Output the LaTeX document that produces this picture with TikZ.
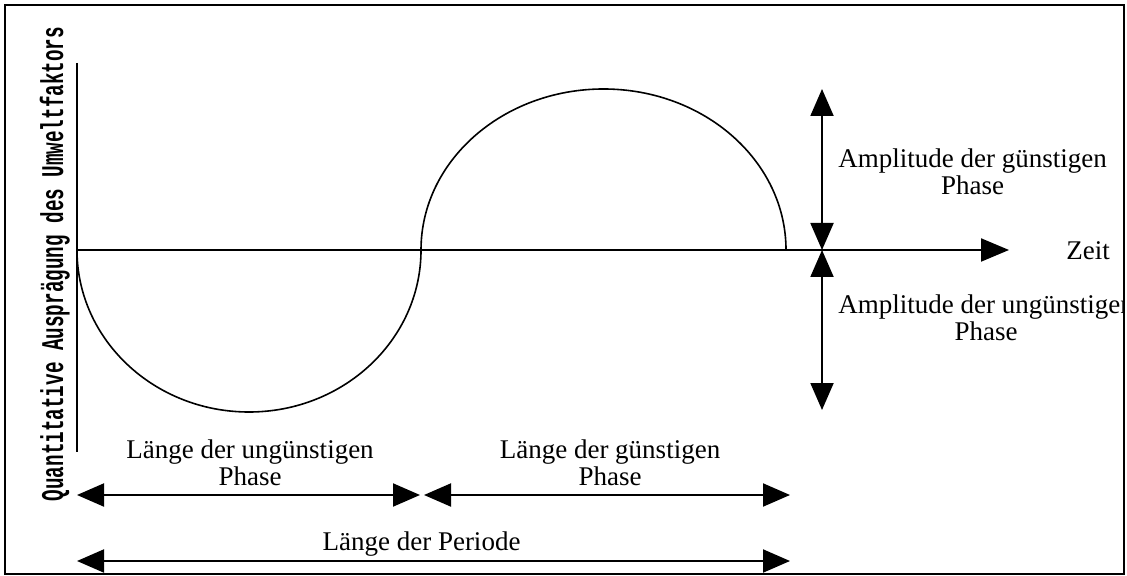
\documentclass[tikz,border=0pt]{standalone}
\usepackage{fontspec}
\setmainfont{Liberation Serif}
\newfontfamily\axisfont[FakeStretch=0.61]{Liberation Mono}
\usetikzlibrary{arrows.meta,positioning}
\tikzset{axisline/.style={line width=1pt},
  wave/.style={line width=0.8pt},
  dimarrow/.style={line width=1pt,
    {Triangle[length=13.5pt,width=11.5pt]}-{Triangle[length=13.5pt,width=11.5pt]}},
  lbl/.style={font=\fontsize{13.5}{13.5}\selectfont, align=center, inner sep=0pt}}

\begin{document}
\begin{tikzpicture}[x=0.5pt, y=-0.5pt]
\useasboundingbox (0,0) rectangle (1127,576);
\draw[line width=1pt] (5,5) rectangle (1124,574);
% axes
\coordinate (ytop) at (77,63);
\coordinate (ybot) at (77,452);
\coordinate (orig) at (77,250);
\coordinate (xend) at (1009,250);
\draw[axisline] (ytop) -- (ybot);
\draw[axisline, -{Triangle[length=14pt,width=11.5pt]}] (orig) -- (xend);
\node[lbl, anchor=base] (zeit) at (1088,260) {Zeit};
\node[font=\axisfont\bfseries\fontsize{15.8}{16}\selectfont, rotate=90,
  inner sep=0pt, anchor=base] (yl) at (63,264)
  {Quantitative Ausprägung des Umweltfaktors};
% the wave
\draw[wave] (orig) arc[start angle=180, end angle=0, x radius=172, y radius=162]
  coordinate (mid);
\draw[wave] (mid) arc[start angle=180, end angle=360, x radius=182.5, y radius=161]
  coordinate (pend);
% amplitudes
\coordinate (atop) at (822,89);
\coordinate (amid) at (822,250);
\coordinate (abot) at (822,410);
\draw[dimarrow] (atop) -- (amid);
\draw[dimarrow] (amid) -- (abot);
\node[lbl, anchor=north west] (ampg) at (838,148.3) {Amplitude der günstigen\\Phase};
\begin{scope}
  \clip (5,5) rectangle (1124,574);
  \node[lbl, anchor=north west] (ampu) at (838,294.6) {Amplitude der ungünstigen\\Phase};
\end{scope}
% lengths
\coordinate (l1a) at (77,495);
\coordinate (l1b) at (420,495);
\coordinate (l2a) at (424,495);
\coordinate (l2b) at (790,495);
\coordinate (pa) at (77,561);
\coordinate (pb) at (790,561);
\draw[dimarrow] (l1a) -- (l1b);
\draw[dimarrow] (l2a) -- (l2b);
\draw[dimarrow] (pa) -- (pb);
\node[lbl, anchor=north] (lenu) at (250,439.6) {Länge der ungünstigen\\Phase};
\node[lbl, anchor=north] (leng) at (610,439.6) {Länge der günstigen\\Phase};
\node[lbl, anchor=base] (lenp) at (421.5,550) {Länge der Periode};
\end{tikzpicture}
\end{document}
